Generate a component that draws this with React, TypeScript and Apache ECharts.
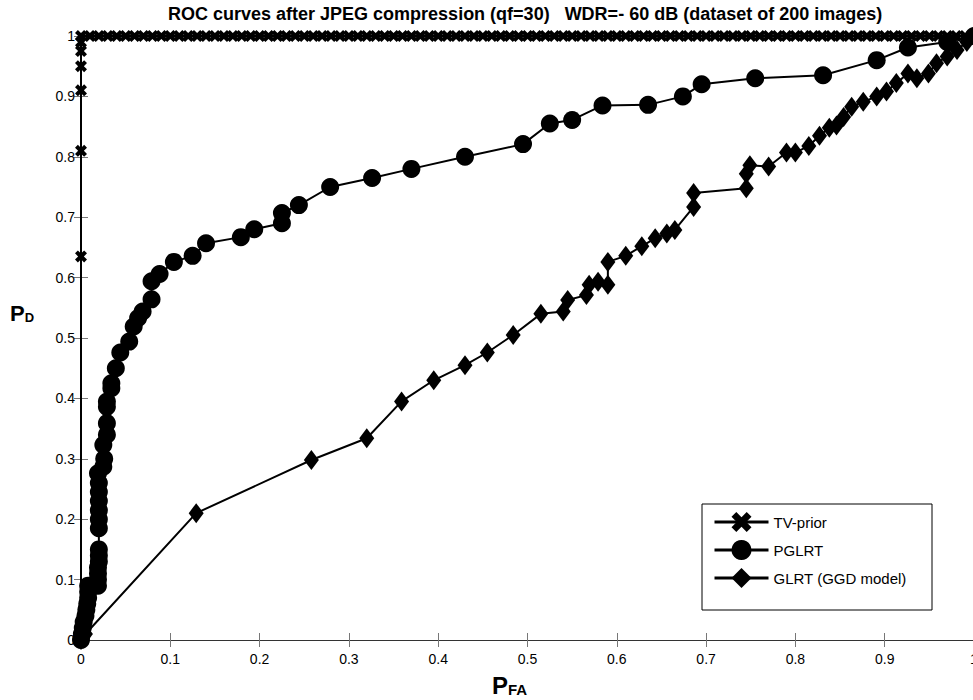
import React, { useEffect, useRef } from "react";
import * as echarts from "echarts";

const titleText = "ROC curves after JPEG compression (qf=30)   WDR=- 60 dB (dataset of 200 images)";
const seriesNames = ["TV-prior", "PGLRT", "GLRT (GGD model)"];

const tvPriorLeft: [number, number][] = [
  [0, 0], [0, 0.635], [0, 0.81], [0, 0.91], [0, 0.95], [0, 0.975], [0, 0.99], [0, 1],
];
const tvPriorTopX: number[] = [
  0.01, 0.02, 0.03, 0.04, 0.05, 0.06, 0.07, 0.08, 0.09, 0.1,
  0.11, 0.12, 0.13, 0.14, 0.15, 0.16, 0.17, 0.18, 0.19, 0.2,
  0.21, 0.22, 0.23, 0.24, 0.25, 0.26, 0.27, 0.28, 0.29, 0.3,
  0.31, 0.32, 0.33, 0.34, 0.35, 0.36, 0.37, 0.38, 0.39, 0.4,
  0.41, 0.42, 0.43, 0.44, 0.45, 0.46, 0.47, 0.48, 0.49, 0.5,
  0.51, 0.52, 0.53, 0.54, 0.55, 0.56, 0.57, 0.58, 0.59, 0.6,
  0.61, 0.62, 0.63, 0.64, 0.65, 0.66, 0.67, 0.68, 0.69, 0.7,
  0.71, 0.72, 0.73, 0.74, 0.75, 0.76, 0.77, 0.78, 0.79, 0.8,
  0.81, 0.82, 0.83, 0.84, 0.85, 0.86, 0.87, 0.88, 0.89, 0.9,
  0.91, 0.92, 0.93, 0.94, 0.95, 0.96, 0.97, 0.98, 0.99, 1,
];

const pglrt: [number, number][] = [
  [0, 0], [0.001, 0.01], [0.002, 0.02], [0.003, 0.03], [0.005, 0.04], [0.006, 0.05],
  [0.007, 0.06], [0.008, 0.07], [0.008, 0.08], [0.008, 0.09], [0.019, 0.09], [0.019, 0.1],
  [0.019, 0.11], [0.019, 0.12], [0.02, 0.13], [0.02, 0.14], [0.02, 0.15], [0.02, 0.185],
  [0.02, 0.2], [0.02, 0.215], [0.02, 0.23], [0.02, 0.245], [0.02, 0.26], [0.019, 0.276],
  [0.025, 0.287], [0.026, 0.3], [0.025, 0.323], [0.029, 0.34], [0.029, 0.359], [0.029, 0.386],
  [0.029, 0.395], [0.034, 0.417], [0.034, 0.425], [0.039, 0.45], [0.044, 0.476], [0.054, 0.494],
  [0.059, 0.519], [0.064, 0.533], [0.069, 0.544], [0.079, 0.564], [0.079, 0.594], [0.088, 0.606],
  [0.104, 0.626], [0.125, 0.636], [0.14, 0.657], [0.179, 0.667], [0.194, 0.68], [0.225, 0.69],
  [0.225, 0.707], [0.244, 0.72], [0.279, 0.75], [0.326, 0.765], [0.37, 0.78], [0.43, 0.8],
  [0.495, 0.821], [0.525, 0.855], [0.55, 0.861], [0.584, 0.885], [0.635, 0.886], [0.674, 0.9],
  [0.695, 0.92], [0.755, 0.93], [0.831, 0.935], [0.891, 0.96], [0.926, 0.981], [0.97, 0.99],
  [1, 1],
];

const glrt: [number, number][] = [
  [0, 0], [0.002, 0.005], [0.005, 0.01], [0.129, 0.21], [0.258, 0.298], [0.32, 0.334],
  [0.359, 0.395], [0.395, 0.43], [0.43, 0.455], [0.455, 0.476], [0.484, 0.505], [0.515, 0.54],
  [0.54, 0.544], [0.545, 0.563], [0.566, 0.571], [0.569, 0.588], [0.579, 0.593], [0.59, 0.588],
  [0.59, 0.626], [0.61, 0.636], [0.628, 0.652], [0.643, 0.665], [0.656, 0.673], [0.665, 0.679],
  [0.686, 0.717], [0.686, 0.74], [0.745, 0.748], [0.745, 0.772], [0.749, 0.786], [0.77, 0.784],
  [0.79, 0.807], [0.8, 0.807], [0.815, 0.818], [0.827, 0.835], [0.838, 0.848], [0.846, 0.852],
  [0.854, 0.866], [0.863, 0.883], [0.876, 0.891], [0.891, 0.9], [0.902, 0.908], [0.913, 0.922],
  [0.926, 0.938], [0.936, 0.93], [0.949, 0.938], [0.958, 0.955], [0.97, 0.966], [0.981, 0.977],
  [0.992, 0.99], [1, 1],
];

const crossPath =
  "path://M0,2.4 L2.4,0 L5,2.6 L7.6,0 L10,2.4 L7.4,5 L10,7.6 L7.6,10 L5,7.4 L2.4,10 L0,7.6 L2.6,5 Z";

const FONT = "'Liberation Sans', Arial, Helvetica, sans-serif";

export default function App() {
  const ref = useRef<HTMLDivElement>(null);

  useEffect(() => {
    if (!ref.current) return;
    const chart = echarts.init(ref.current, undefined, { renderer: "svg" });
    const tvData: [number, number][] = [
      ...tvPriorLeft,
      ...tvPriorTopX.map((x) => [x, 1] as [number, number]),
    ];

    const tickStyle = { show: true, inside: true, length: 7, lineStyle: { color: "#777", width: 1 } };
    const axisLabel = { color: "#000", fontSize: 14, fontFamily: FONT };

    chart.setOption({
      animation: false,
      backgroundColor: "#fff",
      textStyle: { fontFamily: FONT },
      grid: { left: 81, top: 36, width: 893, height: 604, containLabel: false, outerBoundsMode: "none" },
      xAxis: [
        {
          type: "value", min: 0, max: 1, interval: 0.1, position: "bottom",
          axisLine: { show: true, lineStyle: { color: "#333", width: 1 } },
          axisTick: tickStyle, axisLabel: { ...axisLabel, margin: 12 },
          splitLine: { show: false },
        },
        {
          type: "value", min: 0, max: 1, interval: 0.1, position: "top",
          axisLine: { show: true, lineStyle: { color: "#333", width: 1 } },
          axisTick: tickStyle, axisLabel: { show: false }, splitLine: { show: false },
        },
      ],
      yAxis: [
        {
          type: "value", min: 0, max: 1, interval: 0.1, position: "left",
          axisLine: { show: true, lineStyle: { color: "#000", width: 1 } },
          axisTick: tickStyle, axisLabel: { ...axisLabel, margin: 6 },
          splitLine: { show: false },
        },
        {
          type: "value", min: 0, max: 1, interval: 0.1, position: "right",
          axisLine: { show: true, lineStyle: { color: "#333", width: 1 } },
          axisTick: tickStyle, axisLabel: { show: false }, splitLine: { show: false },
        },
      ],
      legend: {
        orient: "vertical",
        left: 713,
        top: 512,
        itemWidth: 54,
        itemHeight: 25,
        itemGap: 8,
        padding: 0,
        lineStyle: { width: 3 },
        textStyle: { color: "#000", fontSize: 15, fontFamily: FONT },
        data: seriesNames,
      },
      graphic: [
        {
          type: "rect", x: 702, y: 504, z: 0,
          shape: { width: 230, height: 106 },
          style: { fill: "#fff", stroke: "#000", lineWidth: 1 },
        },
        {
          type: "text", x: 168, y: 5,
          style: { text: titleText, font: `bold 18px ${FONT}`, fill: "#000" },
        },
        {
          type: "text", x: 10, y: 302,
          style: {
            text: "{p|P}{s|D}",
            rich: {
              p: { font: `bold 22px ${FONT}`, fill: "#000" },
              s: { font: `bold 13px ${FONT}`, fill: "#000", padding: [8, 0, 0, 0] },
            },
          },
        },
        {
          type: "text", x: 492, y: 673,
          style: {
            text: "{p|P}{s|FA}",
            rich: {
              p: { font: `bold 24px ${FONT}`, fill: "#000" },
              s: { font: `bold 15px ${FONT}`, fill: "#000", padding: [9, 0, 0, 0] },
            },
          },
        },
      ],
      series: [
        {
          name: seriesNames[0], type: "line", data: tvData, clip: false,
          symbol: crossPath, symbolSize: 12, showAllSymbol: true,
          lineStyle: { color: "#000", width: 2 },
          itemStyle: { color: "#000" }, z: 4,
        },
        {
          name: seriesNames[1], type: "line", data: pglrt, clip: false,
          symbol: "circle", symbolSize: 18, showAllSymbol: true,
          lineStyle: { color: "#000", width: 2 },
          itemStyle: { color: "#000" }, z: 3,
        },
        {
          name: seriesNames[2], type: "line", data: glrt, clip: false,
          symbol: "diamond", symbolSize: [15, 20], showAllSymbol: true,
          lineStyle: { color: "#000", width: 2 },
          itemStyle: { color: "#000" }, z: 3,
        },
      ],
    });
    return () => chart.dispose();
  }, []);

  return (
    <div
      ref={ref}
      style={{ position: "fixed", left: 0, top: 0, width: 973, height: 700, background: "#fff" }}
    />
  );
}
